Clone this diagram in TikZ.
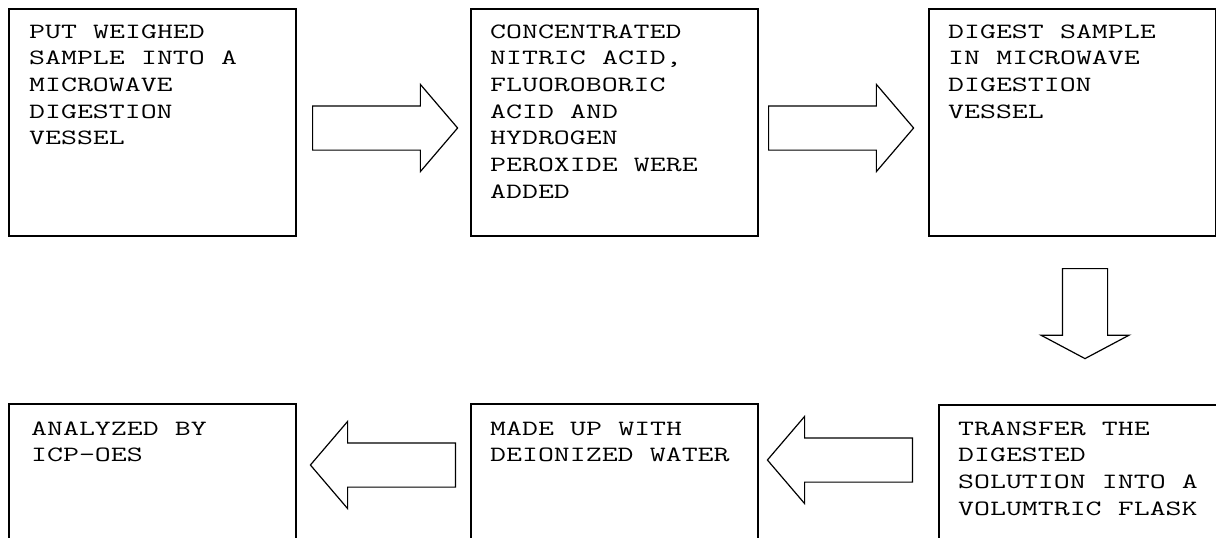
\documentclass[tikz,border=0pt]{standalone}
\usepackage{fontspec}
\newfontfamily\flowfont[FakeStretch=1.42]{Latin Modern Mono}
\newcommand\flowsize{\fontsize{21.8}{26.7}\selectfont}
\newcommand\flowspace{\spaceskip 16.25pt\relax}
\usetikzlibrary{shapes.arrows,calc}

\tikzset{
  stepbox/.style={draw, line width=1.6pt, rectangle, anchor=north west, minimum width=287pt, minimum height=227pt, inner sep=0pt},
  steptext/.style={anchor=base west, text width=265pt, align=left, inner sep=0pt, font=\flowfont\flowsize, execute at begin node=\flowspace},
  flowarrow/.style={draw, fill=white, line width=1.2pt, single arrow, anchor=tail, inner sep=0pt, inner ysep=21.5pt, single arrow head extend=21.5pt, minimum height=145pt, single arrow tip angle=99},
}

\begin{document}
\begin{tikzpicture}[x=1pt, y=-1pt]
    \path[use as bounding box, clip] (0,0) rectangle (1216,538);
    % top row
    \node[stepbox] (put) at (8,8) {};
    \node[stepbox] (acid) at (470,8) {};
    \node[stepbox] (digest) at (928,8) {};
    % bottom row, runs off the page
    \node[stepbox] (icp) at (8,403) {};
    \node[stepbox] (water) at (470,403) {};
    \node[stepbox] (flask) at (938,404) {};

    \node[steptext] (puttext) at ($(put.north west)+(21,30)$) {PUT WEIGHED\\SAMPLE INTO A\\MICROWAVE\\DIGESTION\\VESSEL};
    \node[steptext] (acidtext) at ($(acid.north west)+(20,30)$) {CONCENTRATED\\NITRIC ACID,\\FLUOROBORIC\\ACID AND\\HYDROGEN\\PEROXIDE WERE\\ADDED};
    \node[steptext] (digesttext) at ($(digest.north west)+(20,30)$) {DIGEST SAMPLE\\IN MICROWAVE\\DIGESTION\\VESSEL};
    \node[steptext] (icptext) at ($(icp.north west)+(23,32)$) {ANALYZED BY\\ICP-OES};
    \node[steptext] (watertext) at ($(water.north west)+(20,32)$) {MADE UP WITH\\DEIONIZED WATER};
    \node[steptext] (flasktext) at ($(flask.north west)+(20,31)$) {TRANSFER THE\\DIGESTED\\SOLUTION INTO A\\VOLUMTRIC FLASK};

    % block arrows
    \node[flowarrow] (a1) at (312,128) {};
    \node[flowarrow] (a2) at (768,128) {};
    \node[flowarrow, rotate=-90, minimum height=90pt, inner ysep=22pt, single arrow tip angle=124] (a3) at (1085,268) {};
    \node[flowarrow, rotate=180] (a4) at (456,465) {};
    \node[flowarrow, rotate=180] (a5) at (913,460) {};
\end{tikzpicture}
\end{document}
